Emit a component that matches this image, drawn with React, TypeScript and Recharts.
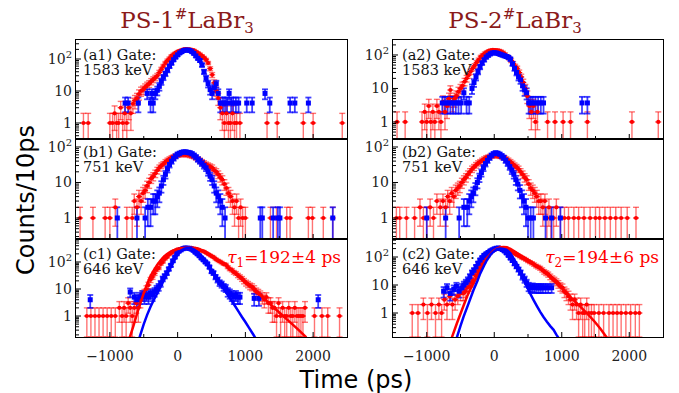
import React from "react";
import { ErrorBar, Scatter, ScatterChart, XAxis, YAxis } from "recharts";

type Pt = [number, number];

// time (ps), counts per 10 ps
const RED_A1: Pt[] = [
  [-1390, 1], [-1320, 1], [-1000, 1], [-960, 1], [-930, 2], [-900, 1], [-870, 1], [-840, 3], [-810, 1],
  [-780, 2], [-750, 1], [-720, 3], [-690, 2], [-660, 4], [-630, 5], [-600, 6], [-570, 8], [-540, 10],
  [-510, 11], [-480, 13], [-450, 15], [-420, 17], [-390, 20], [-360, 23], [-330, 26], [-300, 30],
  [-270, 38], [-240, 48], [-210, 60], [-180, 75], [-150, 90], [-120, 105], [-90, 125], [-60, 140],
  [-30, 155], [0, 170], [30, 180], [60, 190], [90, 200], [120, 205], [150, 200], [180, 200], [210, 195],
  [240, 185], [270, 170], [300, 155], [330, 140], [360, 125], [390, 110], [420, 95], [450, 75], [480, 50],
  [510, 32], [540, 18], [570, 10], [600, 6], [630, 3], [660, 2], [690, 1], [720, 2], [750, 1], [780, 1],
  [810, 2], [840, 1], [870, 1], [920, 1], [1320, 1], [1470, 1], [1855, 1], [2000, 1], [2430, 1],
];
const BLUE_A1: Pt[] = [
  [-775, 4.2], [-730, 4.2], [-580, 4.2], [-450, 8.4], [-400, 4.2], [-380, 8.4], [-360, 4.2], [-330, 8.4],
  [-300, 10.5], [-270, 14], [-240, 20], [-210, 27], [-180, 35], [-150, 45], [-120, 60], [-90, 75],
  [-60, 95], [-30, 115], [0, 135], [30, 155], [60, 170], [90, 185], [120, 190], [150, 190], [180, 185],
  [210, 170], [240, 150], [270, 125], [300, 105], [330, 90], [360, 65], [390, 40], [420, 25], [450, 17],
  [480, 11], [510, 8.4], [540, 12.6], [570, 16.8], [600, 8.4], [630, 4.2], [670, 4.2], [700, 4.2],
  [730, 4.2], [760, 8.4], [790, 4.2], [820, 4.2], [860, 4.2], [900, 4.2], [1020, 4.2], [1100, 4.2],
  [1290, 8.4], [1360, 4.2], [1660, 4.2], [1730, 4.2], [1930, 4.2],
];

const RED_A2: Pt[] = [
  [-1440, 1], [-1320, 1], [-1070, 1], [-1030, 2], [-1000, 1], [-970, 3], [-940, 1], [-910, 2], [-880, 1],
  [-850, 3], [-820, 2], [-790, 1], [-760, 4], [-730, 2], [-700, 3], [-670, 5], [-650, 9], [-620, 4],
  [-590, 5], [-560, 6], [-530, 8], [-500, 10], [-470, 12], [-440, 16], [-410, 20], [-380, 25], [-350, 32],
  [-320, 40], [-290, 48], [-260, 60], [-230, 72], [-200, 88], [-170, 100], [-140, 112], [-110, 122],
  [-80, 132], [-50, 138], [-20, 142], [10, 140], [40, 138], [70, 135], [100, 128], [130, 118], [160, 105],
  [190, 92], [220, 80], [250, 68], [280, 56], [310, 46], [340, 40], [370, 30], [400, 22], [430, 15],
  [460, 10], [490, 6], [520, 3], [550, 2], [580, 3], [610, 1], [640, 2], [790, 1], [900, 1], [1020, 1],
  [1130, 1], [1380, 1], [2040, 1], [2430, 1],
];
const BLUE_A2: Pt[] = [
  [-770, 3.7], [-730, 3.7], [-690, 3.7], [-650, 3.7], [-610, 3.7], [-570, 3.7], [-530, 3.7], [-490, 3.7],
  [-450, 7.4], [-410, 3.7], [-370, 3.7], [-330, 10], [-300, 15], [-270, 22], [-240, 32], [-210, 44],
  [-180, 58], [-150, 72], [-120, 87], [-90, 98], [-60, 108], [-30, 115], [0, 118], [30, 115], [60, 110],
  [90, 105], [120, 100], [150, 95], [180, 90], [210, 85], [240, 75], [270, 55], [300, 40], [330, 30],
  [360, 22], [390, 18], [420, 12], [450, 9], [480, 7.4], [510, 3.7], [540, 3.7], [570, 3.7], [610, 3.7],
  [650, 3.7], [690, 3.7], [730, 3.7], [1300, 3.7], [1380, 3.7],
];

const RED_B1: Pt[] = [
  [-1440, 1], [-1250, 1], [-1070, 1], [-1000, 1], [-920, 2], [-750, 1], [-670, 1], [-640, 3], [-600, 2],
  [-570, 4], [-540, 3], [-510, 5], [-480, 6], [-450, 8], [-420, 10], [-390, 13], [-360, 15], [-330, 18],
  [-300, 22], [-270, 26], [-240, 30], [-210, 33], [-180, 38], [-150, 42], [-120, 46], [-90, 50], [-60, 53],
  [-30, 56], [0, 60], [30, 60], [60, 62], [90, 62], [120, 60], [150, 62], [180, 58], [210, 56], [240, 54],
  [270, 50], [300, 46], [330, 42], [360, 38], [390, 35], [420, 32], [450, 30], [480, 28], [510, 26],
  [540, 22], [570, 20], [600, 17], [630, 14], [660, 12], [690, 9], [720, 7], [750, 5], [780, 4], [810, 3],
  [840, 2], [870, 3], [900, 1], [930, 2], [960, 1], [1000, 1], [1370, 1], [1460, 1], [1610, 1], [1660, 1],
  [1930, 1], [1990, 1], [2150, 1], [2290, 1],
];
const BLUE_B1: Pt[] = [
  [-890, 1], [-600, 1], [-480, 1], [-440, 2], [-400, 2], [-360, 3], [-330, 3], [-300, 4], [-270, 5],
  [-240, 8], [-210, 12], [-180, 17], [-150, 24], [-120, 32], [-90, 40], [-60, 48], [-30, 55], [0, 62],
  [30, 66], [60, 70], [90, 72], [120, 72], [150, 70], [180, 68], [210, 64], [240, 58], [270, 52], [300, 45],
  [330, 40], [360, 35], [390, 30], [420, 26], [450, 20], [480, 15], [510, 12], [540, 8], [570, 5], [600, 4],
  [630, 3], [660, 2], [700, 1], [1220, 1], [1250, 1], [1410, 1], [1480, 1], [1510, 1], [2290, 1],
];

const RED_B2: Pt[] = [
  [-1450, 1], [-1400, 1], [-1300, 1], [-1180, 1], [-1100, 2], [-1050, 1], [-1000, 1], [-950, 2], [-900, 1],
  [-850, 3], [-800, 2], [-760, 3], [-720, 2], [-690, 4], [-660, 3], [-630, 5], [-600, 4], [-570, 6],
  [-540, 7], [-510, 8], [-480, 10], [-450, 12], [-420, 14], [-390, 17], [-360, 20], [-330, 24], [-300, 27],
  [-270, 31], [-240, 35], [-210, 38], [-180, 42], [-150, 46], [-120, 50], [-90, 52], [-60, 55], [-30, 56],
  [0, 58], [30, 58], [60, 56], [90, 55], [120, 52], [150, 50], [180, 46], [210, 42], [240, 38], [270, 34],
  [300, 30], [330, 27], [360, 24], [390, 20], [420, 17], [450, 14], [480, 12], [510, 9], [540, 7], [570, 6],
  [600, 5], [630, 4], [660, 3], [690, 3], [720, 2], [750, 3], [780, 1], [810, 2], [840, 1], [880, 1],
  [920, 2], [980, 1], [1040, 1], [1100, 1], [1180, 1], [1250, 1], [1330, 1], [1420, 1], [1500, 1],
  [1560, 1], [1640, 1], [1720, 1], [1800, 1], [1880, 1], [1970, 1], [2100, 1],
];
const BLUE_B2: Pt[] = [
  [-1000, 1], [-720, 1], [-520, 1], [-450, 2], [-400, 2], [-370, 3], [-340, 4], [-310, 5], [-280, 7],
  [-250, 10], [-220, 14], [-190, 19], [-160, 26], [-130, 34], [-100, 42], [-70, 50], [-40, 58], [-10, 64],
  [20, 68], [50, 66], [80, 62], [110, 56], [140, 50], [170, 42], [200, 35], [230, 28], [260, 22], [290, 17],
  [320, 12], [350, 9], [380, 6], [410, 4], [440, 3], [470, 2], [500, 1], [540, 1], [580, 1], [760, 1],
  [850, 1], [980, 1],
];

const RED_C1: Pt[] = [
  [-1340, 1], [-1280, 1], [-1220, 1], [-1160, 1], [-1100, 1], [-1040, 1], [-980, 1], [-920, 1], [-860, 2],
  [-820, 1], [-790, 2], [-760, 1], [-730, 3], [-700, 2], [-670, 1], [-640, 2], [-610, 3], [-580, 2],
  [-550, 4], [-520, 6], [-490, 7], [-460, 10], [-430, 14], [-400, 22], [-370, 28], [-340, 38], [-310, 52],
  [-280, 60], [-250, 85], [-220, 100], [-190, 130], [-160, 150], [-130, 185], [-100, 210], [-70, 240],
  [-40, 260], [-10, 285], [20, 300], [50, 310], [80, 320], [110, 330], [140, 325], [170, 335], [200, 330],
  [230, 320], [260, 315], [290, 300], [320, 280], [350, 260], [380, 250], [410, 225], [440, 205],
  [470, 185], [500, 165], [530, 150], [560, 130], [590, 115], [620, 105], [650, 95], [680, 85], [710, 80],
  [740, 65], [770, 55], [800, 50], [830, 42], [860, 38], [890, 32], [920, 28], [950, 24], [980, 20],
  [1010, 17], [1040, 15], [1070, 13], [1100, 12], [1130, 10], [1160, 8], [1190, 7], [1220, 6], [1250, 5],
  [1280, 4], [1310, 5], [1340, 3], [1370, 3], [1400, 2], [1430, 2], [1460, 1], [1490, 3], [1520, 1],
  [1550, 2], [1580, 1], [1610, 1], [1640, 2], [1670, 1], [1700, 1], [1730, 2], [1760, 1], [1790, 1],
  [1820, 1], [1850, 1], [1880, 2], [2020, 1], [2130, 1], [2215, 1], [2390, 1],
];
const BLUE_C1: Pt[] = [
  [-1290, 4], [-700, 7.7], [-640, 5], [-600, 4], [-560, 5], [-520, 6], [-490, 5], [-460, 6], [-430, 5],
  [-400, 7], [-370, 6], [-340, 8], [-310, 10], [-280, 12], [-250, 16], [-220, 24], [-190, 30], [-160, 39],
  [-130, 55], [-100, 75], [-70, 110], [-40, 150], [-10, 200], [20, 250], [50, 280], [80, 310], [110, 330],
  [140, 325], [170, 320], [200, 300], [230, 270], [260, 230], [290, 200], [320, 170], [350, 140],
  [380, 120], [410, 100], [440, 85], [470, 65], [500, 45], [530, 39], [560, 28], [590, 22], [620, 17],
  [650, 15], [680, 12], [710, 11], [740, 8], [770, 7], [800, 6], [830, 5], [860, 6], [890, 5], [920, 5],
  [1130, 4.5], [1200, 4.5], [2075, 4],
];
const FIT_RED_C1: Pt[] = [
  [-710, 0.15], [-650, 0.45], [-600, 1.2], [-550, 3], [-500, 7], [-450, 15], [-400, 30], [-350, 50],
  [-300, 80], [-250, 115], [-200, 160], [-150, 200], [-100, 240], [-50, 275], [0, 300], [50, 320],
  [100, 330], [150, 335], [200, 330], [250, 318], [300, 300], [350, 270], [400, 240], [450, 205],
  [500, 170], [550, 140], [600, 115], [650, 96], [700, 80], [800, 50], [900, 30], [1000, 18], [1100, 11],
  [1200, 6.5], [1300, 3.9], [1400, 2.3], [1500, 1.35], [1600, 0.8], [1700, 0.48], [1800, 0.28], [1900, 0.16],
];
const FIT_BLUE_C1: Pt[] = [
  [-570, 0.14], [-500, 0.5], [-450, 1.1], [-400, 2.2], [-350, 4], [-300, 7], [-250, 12.5], [-200, 22],
  [-150, 40], [-100, 70], [-50, 120], [0, 190], [50, 260], [100, 310], [150, 330], [200, 320], [250, 280],
  [300, 225], [350, 170], [400, 125], [450, 85], [500, 52], [550, 33], [600, 21], [650, 13], [700, 8.5],
  [750, 5.5], [800, 3.6], [850, 2.3], [900, 1.45], [950, 0.92], [1000, 0.6], [1050, 0.38], [1100, 0.24],
  [1150, 0.15],
];

const RED_C2: Pt[] = [
  [-1215, 1], [-1130, 1], [-1050, 2], [-990, 1], [-930, 2], [-870, 1], [-820, 2], [-780, 1], [-740, 3],
  [-700, 2], [-660, 4], [-620, 2], [-580, 3], [-540, 4], [-500, 5], [-460, 5], [-430, 6], [-400, 8],
  [-370, 9], [-340, 12], [-310, 15], [-280, 22], [-250, 30], [-220, 40], [-190, 55], [-160, 70], [-130, 90],
  [-100, 110], [-70, 135], [-40, 160], [-10, 175], [20, 195], [50, 210], [80, 215], [110, 210], [140, 205],
  [170, 195], [200, 180], [230, 165], [260, 150], [290, 140], [320, 125], [350, 115], [380, 105], [410, 95],
  [440, 88], [470, 80], [500, 72], [530, 66], [560, 60], [590, 54], [620, 48], [650, 44], [680, 40],
  [710, 35], [740, 30], [770, 27], [800, 24], [830, 20], [860, 17], [890, 15], [920, 13], [950, 11],
  [980, 9], [1010, 8], [1040, 6], [1070, 5], [1100, 4], [1130, 3], [1160, 2], [1190, 3], [1220, 2],
  [1250, 1], [1280, 2], [1310, 1], [1340, 1], [1370, 2], [1400, 1], [1440, 1], [1480, 1], [1550, 1],
  [1620, 1], [1700, 1], [1760, 1], [1820, 1], [1880, 1], [1950, 1], [2020, 1], [2090, 1], [2150, 1],
];
const BLUE_C2: Pt[] = [
  [-750, 6], [-700, 8], [-650, 5], [-600, 7], [-560, 9], [-520, 6], [-480, 8], [-450, 10], [-420, 12],
  [-390, 15], [-360, 20], [-330, 28], [-300, 34], [-270, 45], [-240, 60], [-210, 78], [-180, 95],
  [-150, 115], [-120, 130], [-90, 145], [-60, 165], [-30, 180], [0, 195], [30, 205], [60, 210], [90, 200],
  [120, 185], [150, 165], [180, 140], [210, 115], [240, 92], [270, 75], [300, 58], [330, 46], [360, 36],
  [390, 28], [420, 20], [450, 16], [480, 12], [510, 9], [540, 8], [570, 8.5], [600, 8], [630, 8], [660, 8],
  [690, 8], [720, 8], [760, 8], [800, 8], [850, 8],
];
const FIT_RED_C2: Pt[] = [
  [-635, 0.12], [-553, 0.43], [-479, 1.28], [-405, 3.8], [-355, 7], [-307, 11.5], [-257, 20], [-207, 34],
  [-157, 57], [-108, 90], [-60, 125], [-10, 167], [40, 200], [89, 222], [140, 228], [188, 222], [240, 195],
  [286, 167], [335, 140], [385, 118], [485, 85], [583, 59], [680, 39], [780, 26], [880, 15], [978, 8.7],
  [1075, 5], [1175, 2.9], [1275, 1.7], [1373, 0.98], [1470, 0.55], [1570, 0.28], [1670, 0.13],
];
const FIT_BLUE_C2: Pt[] = [
  [-560, 0.12], [-500, 0.35], [-454, 0.74], [-380, 2.2], [-307, 6.6], [-250, 14], [-207, 26], [-150, 50],
  [-108, 78], [-50, 125], [-10, 155], [40, 190], [90, 200], [140, 195], [188, 178], [240, 135], [286, 90],
  [335, 56], [385, 34], [435, 17], [484, 8.7], [535, 4.8], [583, 2.9], [630, 1.8], [681, 1.1], [730, 0.72],
  [780, 0.49], [830, 0.34], [879, 0.25], [920, 0.17], [960, 0.12],
];

const X_DOMAIN: [number, number] = [-1500, 2500];
const X_MAJOR = [-1000, 0, 1000, 2000];
const X_MINOR = [-500, 500, 1500];
const Y_MAJOR = [1, 10, 100];
const Y_MINOR = [
  0.2, 0.3, 0.4, 0.5, 0.6, 0.7, 0.8, 0.9, 2, 3, 4, 5, 6, 7, 8, 9, 20, 30, 40, 50, 60, 70, 80, 90, 200, 300,
  400, 500, 600, 700, 800, 900,
];

const TITLES = ["PS-1", "PS-2"];
const LIFETIMES = ["192±4", "194±6"];

const SERIF = "'DejaVu Serif', serif";
const SANS = "'DejaVu Sans', sans-serif";
const RED = "#ff0000";
const BLUE = "#0000ff";

const COL_LEFT = [76, 393];
const COL_WIDTH = [271, 270];
const ROW_TOP = [40, 139, 239];
const ROW_HEIGHT = [99, 100, 98];

type Panel = {
  id: string;
  gate: string;
  col: number;
  row: number;
  yDomain: [number, number];
  red: Pt[];
  blue: Pt[];
  redFit?: Pt[];
  blueFit?: Pt[];
};

const PANELS: Panel[] = [
  { id: "a1", gate: "1583 keV", col: 0, row: 0, yDomain: [0.316, 393], red: RED_A1, blue: BLUE_A1 },
  { id: "b1", gate: "751 keV", col: 0, row: 1, yDomain: [0.256, 168], red: RED_B1, blue: BLUE_B1 },
  { id: "c1", gate: "646 keV", col: 0, row: 2, yDomain: [0.167, 709], red: RED_C1, blue: BLUE_C1, redFit: FIT_RED_C1, blueFit: FIT_BLUE_C1 },
  { id: "a2", gate: "1583 keV", col: 1, row: 0, yDomain: [0.31, 280], red: RED_A2, blue: BLUE_A2 },
  { id: "b2", gate: "751 keV", col: 1, row: 1, yDomain: [0.256, 168], red: RED_B2, blue: BLUE_B2 },
  { id: "c2", gate: "646 keV", col: 1, row: 2, yDomain: [0.139, 440], red: RED_C2, blue: BLUE_C2, redFit: FIT_RED_C2, blueFit: FIT_BLUE_C2 },
];

const PAD_L = 70;
const PAD_T = 10;
const PAD_R = 10;

// poisson-ish bars, lower end held at the bottom of the panel
function withErrors(pts: Pt[], floor: number) {
  return pts.map(([t, n]) => {
    const s = Math.sqrt(n);
    const lo = Math.max(n - s, floor);
    return { t, n, err: [n - lo, s] };
  });
}

const redDot = (p: any) => {
  if (p.cx == null || p.cy == null) return <g />;
  return (
    <g>
      <line x1={p.cx - 3} x2={p.cx + 3} y1={p.cy} y2={p.cy} stroke={RED} strokeWidth={1} />
      <circle cx={p.cx} cy={p.cy} r={2.1} fill={RED} />
    </g>
  );
};

const blueDot = (p: any) => {
  if (p.cx == null || p.cy == null) return <g />;
  return <rect x={p.cx - 2.5} y={p.cy - 2.5} width={5} height={5} fill={BLUE} />;
};

const noDot = () => <g />;

function yLabel(v: number) {
  if (v === 100)
    return (
      <>
        10<tspan dy={-6} fontSize={10}>2</tspan>
      </>
    );
  return String(v);
}

function PanelChart({ p }: { p: Panel }) {
  const w = COL_WIDTH[p.col];
  const h = ROW_HEIGHT[p.row];
  const showX = p.row === 2;
  const padB = showX ? 30 : 10;
  const bottom = PAD_T + h;
  const [yMin, yMax] = p.yDomain;
  const yTicks = [...Y_MAJOR, ...Y_MINOR].filter((v) => v > yMin && v < yMax).sort((a, b) => a - b);
  const xTicks = [...X_MAJOR, ...X_MINOR].sort((a, b) => a - b);

  const xTick = (props: any) => {
    const { x, payload } = props;
    const major = X_MAJOR.includes(payload.value);
    return (
      <g>
        <line x1={x} x2={x} y1={bottom} y2={bottom - (major ? 5 : 3)} stroke="#000" strokeWidth={1} />
        {showX && major && (
          <text x={x} y={bottom + 24} textAnchor="middle" fontFamily={SERIF} fontSize={14} fill="#222">
            {payload.value < 0 ? `\u2212${Math.abs(payload.value)}` : payload.value}
          </text>
        )}
      </g>
    );
  };

  const yTick = (props: any) => {
    const { y, payload } = props;
    const major = Y_MAJOR.includes(payload.value);
    return (
      <g>
        <line x1={PAD_L} x2={PAD_L + (major ? 5 : 3)} y1={y} y2={y} stroke="#000" strokeWidth={1} />
        {major && (
          <text x={PAD_L - 4} y={y + 5} textAnchor="end" fontFamily={SERIF} fontSize={14} fill="#222">
            {yLabel(payload.value)}
          </text>
        )}
      </g>
    );
  };

  return (
    <div style={{ position: "absolute", left: COL_LEFT[p.col] - PAD_L, top: ROW_TOP[p.row] - PAD_T }}>
      <ScatterChart
        width={w + PAD_L + PAD_R}
        height={h + PAD_T + padB}
        margin={{ top: PAD_T, right: PAD_R, bottom: 0, left: 0 }}
      >
        <XAxis
          type="number"
          dataKey="t"
          domain={X_DOMAIN}
          allowDataOverflow
          ticks={xTicks}
          interval={0}
          height={padB}
          axisLine={false}
          tickLine={false}
          tick={xTick}
        />
        <YAxis
          type="number"
          dataKey="n"
          scale="log"
          domain={p.yDomain}
          allowDataOverflow
          ticks={yTicks}
          interval={0}
          width={PAD_L}
          axisLine={false}
          tickLine={false}
          tick={yTick}
        />
        <Scatter data={withErrors(p.red, yMin)} shape={redDot} isAnimationActive={false}>
          <ErrorBar dataKey="err" direction="y" width={3} stroke="rgba(255,0,0,0.55)" strokeWidth={1.4} />
        </Scatter>
        <Scatter data={withErrors(p.blue, yMin)} shape={blueDot} isAnimationActive={false}>
          <ErrorBar dataKey="err" direction="y" width={3} stroke="rgba(0,0,255,0.75)" strokeWidth={1.8} />
        </Scatter>
        {p.redFit && (
          <Scatter
            data={p.redFit.map(([t, n]) => ({ t, n }))}
            shape={noDot}
            line={{ stroke: RED, strokeWidth: 2.5 }}
            isAnimationActive={false}
          />
        )}
        {p.blueFit && (
          <Scatter
            data={p.blueFit.map(([t, n]) => ({ t, n }))}
            shape={noDot}
            line={{ stroke: BLUE, strokeWidth: 2.5 }}
            isAnimationActive={false}
          />
        )}
      </ScatterChart>
    </div>
  );
}

export default function App() {
  return (
    <div style={{ position: "absolute", left: 0, top: 0, width: 679, height: 393, background: "#fff" }}>
      {PANELS.map((p) => (
        <PanelChart key={p.id} p={p} />
      ))}
      {PANELS.map((p) => (
        <div
          key={`f${p.id}`}
          style={{
            position: "absolute",
            left: COL_LEFT[p.col] - 0.75,
            top: ROW_TOP[p.row] - 0.75,
            width: COL_WIDTH[p.col] + 1.5,
            height: ROW_HEIGHT[p.row] + 1.5,
            border: "1.5px solid #000",
            boxSizing: "border-box",
            pointerEvents: "none",
          }}
        />
      ))}
      <svg width={679} height={393} style={{ position: "absolute", left: 0, top: 0, pointerEvents: "none" }}>
        {TITLES.map((t, i) => (
          <text
            key={t}
            x={i === 0 ? 187 : 515}
            y={28}
            textAnchor="middle"
            fontFamily={SERIF}
            fontSize={23}
            fill="#8b1a1a"
          >
            {t}
            <tspan dy={-9} fontSize={15}>#</tspan>
            <tspan dy={9}>LaBr</tspan>
            <tspan dy={5} fontSize={15}>3</tspan>
          </text>
        ))}
        <text
          transform="translate(34,200) rotate(-90)"
          textAnchor="middle"
          fontFamily={SANS}
          fontSize={24}
          fill="#000"
        >
          Counts/10ps
        </text>
        <text x={356} y={388} textAnchor="middle" fontFamily={SANS} fontSize={24} fill="#000">
          Time (ps)
        </text>
        {PANELS.map((p) => {
          const x = COL_LEFT[p.col] + (p.col === 0 ? 7 : 9);
          const y0 = [60, 157, 259][p.row];
          return (
            <text key={`t${p.id}`} fontFamily={SERIF} fontSize={14.5} fill="#111">
              <tspan x={x} y={y0}>{`(${p.id}) Gate:`}</tspan>
              <tspan x={x} y={y0 + 15}>{p.gate}</tspan>
            </text>
          );
        })}
        {LIFETIMES.map((v, i) => (
          <text
            key={v}
            x={i === 0 ? 341 : 659}
            y={263}
            textAnchor="end"
            fontFamily={SERIF}
            fontSize={17}
            fill={RED}
          >
            <tspan fontStyle="italic">τ</tspan>
            <tspan dy={4} fontSize={12}>{i + 1}</tspan>
            <tspan dy={-4}>{`=${v} ps`}</tspan>
          </text>
        ))}
      </svg>
    </div>
  );
}
